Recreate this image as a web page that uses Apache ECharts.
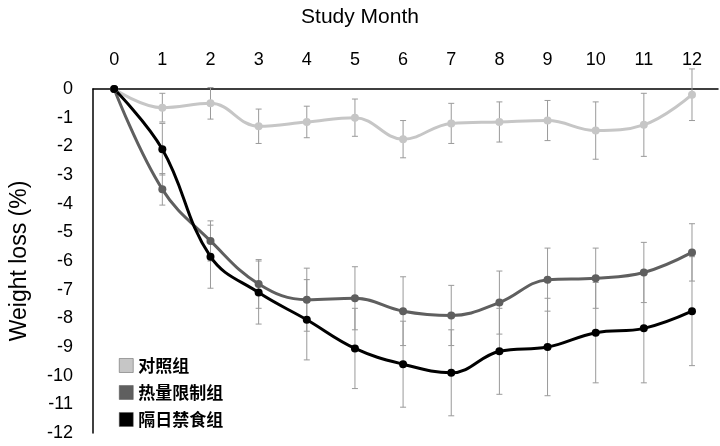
<!DOCTYPE html>
<html>
<head>
<meta charset="utf-8">
<script src="https://cdn.jsdelivr.net/npm/echarts@6/dist/echarts.min.js"></script>
<style>html,body{margin:0;padding:0;background:#fff}#c{width:720px;height:446px}</style>
</head>
<body>
<div id="c"></div>
<script>
const months = [0, 1, 2, 3, 4, 5, 6, 7, 8, 9, 10, 11, 12]
const names = ['对照组', '热量限制组', '隔日禁食组']
const control = [0, -0.65, -0.5, -1.3, -1.15, -1.0, -1.75, -1.2, -1.15, -1.1, -1.45, -1.25, -0.2]
const controlErr = [0, 0.5, 0.55, 0.6, 0.55, 0.65, 0.65, 0.7, 0.7, 0.7, 1.0, 1.1, 0.9]
const cr = [0, -3.5, -5.3, -6.8, -7.35, -7.3, -7.75, -7.9, -7.45, -6.65, -6.6, -6.4, -5.7]
const crErr = [0, 0.55, 0.7, 0.85, 1.1, 1.1, 1.2, 1.05, 1.1, 1.1, 1.05, 1.05, 1.0]
const adf = [0, -2.1, -5.85, -7.1, -8.05, -9.05, -9.6, -9.9, -9.15, -9.0, -8.5, -8.35, -7.75]
const adfErr = [0, 0.9, 1.1, 1.1, 1.4, 1.4, 1.5, 1.5, 1.5, 1.7, 1.75, 1.9, 1.9]
const colors = ['#c6c6c6', '#5f5f5f', '#000000']

const chart = echarts.init(document.getElementById('c'))

const lineSeries = (name, vals, color) => ({
    name,
    type: 'line',
    smooth: 0.4,
    data: months.map((m, i) => [m, vals[i]]),
    symbol: 'circle',
    symbolSize: 8,
    itemStyle: { color },
    lineStyle: { color, width: 3 },
    z: 3
})

const errSeries = (name, vals, errs) => ({
    name,
    type: 'custom',
    data: months.map((m, i) => [m, vals[i] - errs[i], vals[i] + errs[i]]),
    renderItem: (params, api) => {
        const lo = api.coord([api.value(0), api.value(1)])
        const hi = api.coord([api.value(0), api.value(2)])
        const w = 3
        const style = { stroke: '#9a9a9a', lineWidth: 1 }
        return {
            type: 'group',
            children: [
                { type: 'line', shape: { x1: lo[0], y1: lo[1], x2: hi[0], y2: hi[1] }, style },
                { type: 'line', shape: { x1: lo[0] - w, y1: lo[1], x2: lo[0] + w, y2: lo[1] }, style },
                { type: 'line', shape: { x1: hi[0] - w, y1: hi[1], x2: hi[0] + w, y2: hi[1] }, style }
            ]
        }
    },
    z: 2
})

chart.setOption({
    animation: false,
    title: {
        text: 'Study Month', left: 'center', top: 2,
        textStyle: { fontFamily: 'Liberation Sans', fontSize: 21, fontWeight: 'normal', color: '#000' }
    },
    legend: {
        data: names.map((n, i) => ({ name: n, itemStyle: { color: colors[i], borderColor: '#555', borderWidth: 0.5 } })),
        orient: 'vertical', left: 114, top: 352, itemGap: 10,
        icon: 'rect', itemWidth: 14, itemHeight: 14,
        textStyle: { fontFamily: 'Noto Sans CJK SC', fontSize: 17, fontWeight: 'bold', color: '#000' }
    },
    grid: { left: 92, right: 2, top: 89, bottom: 13 },
    xAxis: {
        type: 'value', position: 'top', min: -0.44, max: 12.54,
        axisLine: { lineStyle: { color: '#000', width: 1.5 } },
        axisTick: { show: false },
        splitLine: { show: false },
        axisLabel: {
            customValues: months, margin: 20,
            fontFamily: 'Liberation Sans', fontSize: 18, color: '#000'
        }
    },
    yAxis: {
        type: 'value', min: -12, max: 0, interval: 1,
        name: 'Weight loss (%)', nameLocation: 'middle', nameGap: 62,
        nameTextStyle: { fontFamily: 'Liberation Sans', fontSize: 23, color: '#000' },
        axisLine: { show: true, onZero: false, lineStyle: { color: '#000', width: 1.5 } },
        axisTick: { show: false },
        splitLine: { show: false },
        axisLabel: { fontFamily: 'Liberation Sans', fontSize: 18, color: '#000', margin: 20 }
    },
    series: [
        errSeries(names[0], control, controlErr),
        errSeries(names[1], cr, crErr),
        errSeries(names[2], adf, adfErr),
        lineSeries(names[0], control, colors[0]),
        lineSeries(names[1], cr, colors[1]),
        lineSeries(names[2], adf, colors[2])
    ]
})
</script>
</body>
</html>
